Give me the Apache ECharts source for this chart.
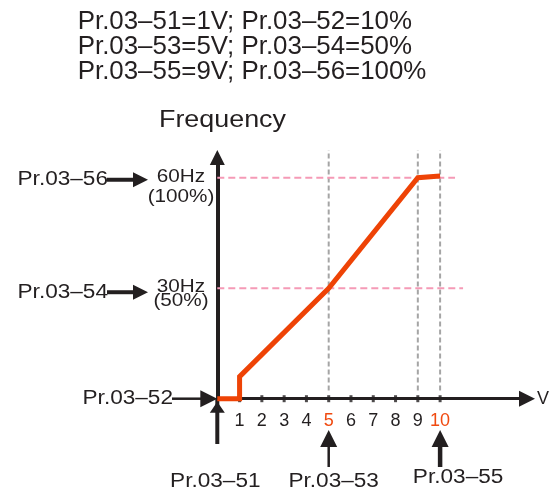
<!DOCTYPE html>
<html><head><meta charset="utf-8">
<script src="https://cdn.jsdelivr.net/npm/echarts@6/dist/echarts.min.js"></script>
<style>html,body{margin:0;padding:0;background:#fff}#c{width:560px;height:493px}</style>
</head><body><div id="c"></div>
<script>
// ---- data ----
const titleLines = ['Pr.03–51=1V; Pr.03–52=10%', 'Pr.03–53=5V; Pr.03–54=50%', 'Pr.03–55=9V; Pr.03–56=100%'];
const yAxisTitle = 'Frequency';
const xAxisTitle = 'V';
const xTicks = [1, 2, 3, 4, 5, 6, 7, 8, 9, 10];
const redTicks = [5, 10];
const curveX = [0, 1, 1, 5, 9, 10];
const curveY = [0, 0, 6, 30, 60, 60.5];
const guideX = [5, 9, 10];
const guideY = [30, 60];
const levelParams = ['Pr.03–54', 'Pr.03–56'];
const levelHz = ['30Hz', '60Hz'];
const levelPct = ['(50%)', '(100%)'];
const originParam = 'Pr.03–52';
const bottomX = [0, 5, 10];
const bottomParams = ['Pr.03–51', 'Pr.03–53', 'Pr.03–55'];

// ---- styles ----
const BLACK = '#231f20', ORANGE = '#ee4306', RED = '#f04a10', PINK = '#f59ab6', GREY = '#a5a5a5';
const FONT = '"Liberation Sans", Arial, Helvetica, sans-serif';
const guideYEnds = [11.03, 10.67];
const yAxisTail = -12.3;

const chart = echarts.init(document.getElementById('c'), null, {renderer: 'canvas'});

const series = [];
// downward continuation of the frequency axis below the origin
series.push({
  type: 'line', data: [[0, 0], [0, yAxisTail]], symbol: 'none', clip: false, silent: true, z: 0,
  lineStyle: {color: BLACK, width: 4, cap: 'butt'}
});
guideX.forEach(gx => series.push({
  type: 'line', data: [[gx, 2.2], [gx, 67.5]], symbol: 'none', clip: false, silent: true, z: 1,
  lineStyle: {color: GREY, width: 2, type: [5, 3]}
}));
guideY.forEach((gy, i) => series.push({
  type: 'line', data: [[0, gy], [guideYEnds[i], gy]], symbol: 'none', clip: false, silent: true, z: 1,
  lineStyle: {color: PINK, width: 2, type: [7, 4]}
}));
series.push({
  type: 'scatter', data: xTicks.map(v => [v, 0]), symbol: 'rect', symbolSize: [3, 7], clip: false,
  itemStyle: {color: BLACK}, silent: true, z: 2
});
series.push({
  type: 'line', data: curveX.map((x, i) => [x, curveY[i]]), symbol: 'none', clip: false, z: 3,
  lineStyle: {color: ORANGE, width: 5, join: 'miter', cap: 'butt'}
});

chart.setOption({
  animation: false,
  backgroundColor: '#fff',
  grid: {left: 217.3, right: 33, top: 157.5, bottom: 94.3, containLabel: false},
  xAxis: {
    type: 'value', min: 0, max: 13.9, interval: 1,
    name: xAxisTitle, nameLocation: 'end', nameGap: 10,
    nameTextStyle: {color: BLACK, fontSize: 18, fontFamily: FONT},
    axisLine: {symbol: ['none', 'triangle'], symbolSize: [16, 16], lineStyle: {color: BLACK, width: 3}},
    axisTick: {show: false}, splitLine: {show: false},
    axisLabel: {
      margin: 13, showMaxLabel: false, showMinLabel: false,
      fontSize: 18, fontFamily: FONT, color: BLACK,
      formatter: v => xTicks.includes(v) ? (redTicks.includes(v) ? '{r|' + v + '}' : '{k|' + v + '}') : '',
      rich: {
        r: {color: RED, fontSize: 18, fontFamily: FONT},
        k: {color: BLACK, fontSize: 18, fontFamily: FONT}
      }
    }
  },
  yAxis: {
    type: 'value', min: 0, max: 65.5,
    axisLine: {symbol: ['none', 'triangle'], symbolSize: [15, 15], lineStyle: {color: BLACK, width: 4}},
    axisTick: {show: false}, axisLabel: {show: false}, splitLine: {show: false}
  },
  series: series
});

// ---- annotations ----
const px = (x, y) => chart.convertToPixel({gridIndex: 0}, [x, y]);
const g = [];
function txt(s, x, y, size, align, sx, color) {
  g.push({type: 'text', x: x, y: y, scaleX: sx, silent: true, z: 10,
    style: {text: s, x: 0, y: 0, fontSize: size, fontFamily: FONT, fill: color || BLACK, align: align, verticalAlign: 'middle'}});
}
function poly(points) { g.push({type: 'polygon', silent: true, z: 10, shape: {points: points}, style: {fill: BLACK}}); }
function rect(x, y, w, h) { g.push({type: 'rect', silent: true, z: 10, shape: {x: x, y: y, width: w, height: h}, style: {fill: BLACK}}); }

// title
titleLines.forEach((s, i) => txt(s, 77.7, 22 + i * 25, 25, 'left', 1.035));
// y axis name
txt(yAxisTitle, 222.5, 120, 24, 'center', 1.12);

// level annotations (30Hz, 60Hz)
const levelDy = [[4, -1, 13], [2, -1, 19]];
guideY.forEach((gy, i) => {
  const p = px(0, gy);
  const ya = p[1] + levelDy[i][0];
  txt(levelParams[i], 108, ya, 20, 'right', 1.13);
  rect(107, ya - 2, 27, 4);
  poly([[133, ya - 7.5], [148, ya], [133, ya + 7.5]]);
  txt(levelHz[i], 181, p[1] + levelDy[i][1], 18, 'center', 1.15);
  txt(levelPct[i], 181, p[1] + levelDy[i][2], 18, 'center', 1.15);
});

// origin annotation
const o = px(0, 0);
txt(originParam, 173, o[1], 20, 'right', 1.13);
rect(172, o[1] - 1.25, 30, 2.5);
poly([[o[0] - 17, o[1] - 8.5], [o[0], o[1]], [o[0] - 17, o[1] + 8.5]]);
poly([[o[0], o[1] + 3], [o[0] + 7.5, o[1] + 14], [o[0] - 7.5, o[1] + 14]]);
txt(bottomParams[0], o[0] - 2, 481, 20, 'center', 1.13);

// bottom arrows for 5 and 10
const shaftW = [0, 2.5, 4.5];
const textDx = [0, 5, 18];
const textY = [481, 481, 477];
for (let i = 1; i < bottomX.length; i++) {
  const p = px(bottomX[i], 0);
  poly([[p[0], 430], [p[0] + 8.5, 447], [p[0] - 8.5, 447]]);
  rect(p[0] - shaftW[i] / 2, 446, shaftW[i], 21);
  txt(bottomParams[i], p[0] + textDx[i], textY[i], 20, 'center', 1.13);
}

chart.setOption({graphic: g});
</script>
</body></html>
